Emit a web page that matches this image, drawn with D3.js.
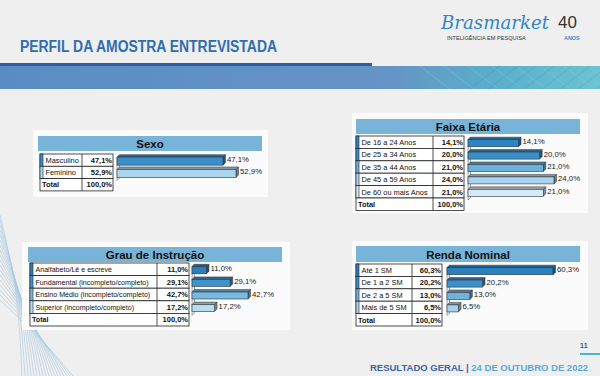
<!DOCTYPE html>
<html>
<head>
<meta charset="utf-8">
<script src="https://cdn.jsdelivr.net/npm/d3@7"></script>
<style>
  body { margin: 0; background: #efefef; }
  svg { display: block; font-family: "Liberation Sans", Arial, sans-serif; }
</style>
</head>
<body>
<div id="chart"></div>
<script>
// chart data
const sexoLabels = ["Masculino", "Feminino"];
const sexoValues = [47.1, 52.9];

const faixaLabels = ["De 16 a 24 Anos", "De 25 a 34 Anos", "De 35 a 44 Anos", "De 45 a 59 Anos", "De 60 ou mais Anos"];
const faixaValues = [14.1, 20.0, 21.0, 24.0, 21.0];

const grauLabels = ["Analfabeto/Lê e escreve", "Fundamental (incompleto/completo)", "Ensino Médio (incompleto/completo)", "Superior (incompleto/completo)"];
const grauValues = [11.0, 29.1, 42.7, 17.2];

const rendaLabels = ["Até 1 SM", "De 1 a 2 SM", "De 2 a 5 SM", "Mais de 5 SM"];
const rendaValues = [60.3, 20.2, 13.0, 6.5];

const totalLabel = "Total";
const totalValue = 100.0;

const W = 600, H = 376;
const fmt = v => d3.format(".1f")(v).replace(".", ",") + "%";

const svg = d3.select("#chart").append("svg")
    .attr("width", W)
    .attr("height", H);

const defs = svg.append("defs");
const bandGrad = defs.append("linearGradient").attr("id", "bandGrad");
bandGrad.append("stop").attr("offset", "0%").attr("stop-color", "#5a8cc3");
bandGrad.append("stop").attr("offset", "65%").attr("stop-color", "#6594c6");
bandGrad.append("stop").attr("offset", "82%").attr("stop-color", "#5aaecb");
bandGrad.append("stop").attr("offset", "100%").attr("stop-color", "#6cc3d2");

// background
svg.append("rect").attr("width", W).attr("height", H).attr("fill", "#efefef");

// bottom-left decorative curves
const curve = d3.line().curve(d3.curveBasis);
d3.range(18).forEach(i => {
    svg.append("path")
        .attr("d", curve([[0, 215 + i * 5], [18 + i * 1.5, 290 + i * 3], [22 + i * 3, 376]]))
        .attr("fill", "none")
        .attr("stroke", "#a9c8e0")
        .attr("stroke-width", 0.6);
});

// header
svg.append("text")
    .attr("x", 20).attr("y", 52)
    .attr("font-size", 16).attr("font-weight", "bold")
    .attr("fill", "#2f6db0")
    .attr("textLength", 257).attr("lengthAdjust", "spacingAndGlyphs")
    .text("PERFIL DA AMOSTRA ENTREVISTADA");

svg.append("rect").attr("x", 0).attr("y", 66).attr("width", W).attr("height", 23).attr("fill", "url(#bandGrad)");
svg.append("rect").attr("x", 0).attr("y", 63).attr("width", 372).attr("height", 3).attr("fill", "#2c5f9f");
// crosshatch on the band's right end
d3.range(8).forEach(i => {
    svg.append("line")
        .attr("x1", 420 + i * 24).attr("y1", 66)
        .attr("x2", 450 + i * 24).attr("y2", 89)
        .attr("stroke", "#8fd0dc").attr("stroke-width", 0.5).attr("opacity", 0.7);
    svg.append("line")
        .attr("x1", 470 + i * 18).attr("y1", 89)
        .attr("x2", 500 + i * 18).attr("y2", 66)
        .attr("stroke", "#4c7fae").attr("stroke-width", 0.4).attr("opacity", 0.6);
});

// logo
const brand = svg.append("text")
    .attr("x", 441).attr("y", 29)
    .attr("font-family", "DejaVu Serif").attr("font-style", "italic")
    .attr("font-size", 23).attr("fill", "#2f86c6")
    .text("Brasmarket");
// shrink the wordmark so it fits before the "40"
const bw = brand.node().getComputedTextLength();
if (bw > 108) brand.attr("font-size", 23 * 108 / bw);
svg.append("text")
    .attr("x", 558).attr("y", 28)
    .attr("font-size", 17).attr("fill", "#333")
    .text("40");
svg.append("text")
    .attr("x", 447).attr("y", 40)
    .attr("font-size", 5.6).attr("fill", "#333")
    .text("INTELIGÊNCIA EM PESQUISA");
svg.append("text")
    .attr("x", 564).attr("y", 40)
    .attr("font-size", 5.4).attr("font-weight", "bold").attr("fill", "#3c8cc8")
    .text("ANOS");

// one panel: header strip, table and 3D bars
function drawPanel(cfg) {
    const g = svg.append("g");

    g.append("rect")
        .attr("x", cfg.box[0]).attr("y", cfg.box[1])
        .attr("width", cfg.box[2]).attr("height", cfg.box[3])
        .attr("fill", "#fbfbfb");

    g.append("rect")
        .attr("x", cfg.head[0]).attr("y", cfg.head[1])
        .attr("width", cfg.head[2] - cfg.head[0]).attr("height", cfg.head[3] - cfg.head[1])
        .attr("fill", "#78b4d8");
    g.append("text")
        .attr("x", (cfg.head[0] + cfg.head[2]) / 2).attr("y", cfg.head[3] - 3.5)
        .attr("text-anchor", "middle")
        .attr("font-size", 11.5).attr("font-weight", "bold").attr("fill", "#111")
        .text(cfg.title);

    const rows = cfg.labels.concat([totalLabel]);
    const y = d3.scaleBand()
        .domain(rows)
        .range([cfg.top, cfg.top + cfg.rowH * rows.length]);

    const x = d3.scaleLinear()
        .domain([0, d3.max(cfg.values)])
        .range([cfg.x0, cfg.x0 + cfg.len]);

    const tL = cfg.table[0], tD = cfg.table[1], tR = cfg.table[2];

    // table cells
    const row = g.selectAll(".row").data(rows).enter().append("g");
    row.append("rect")
        .attr("x", tL).attr("y", d => y(d))
        .attr("width", tR - tL).attr("height", y.bandwidth())
        .attr("fill", "#fff").attr("stroke", "#222").attr("stroke-width", 0.8);
    row.append("line")
        .attr("x1", tD).attr("x2", tD)
        .attr("y1", d => y(d)).attr("y2", d => y(d) + y.bandwidth())
        .attr("stroke", "#222").attr("stroke-width", 0.8);
    row.filter((d, i) => i < cfg.labels.length).append("rect")
        .attr("x", tL).attr("y", d => y(d))
        .attr("width", 3).attr("height", y.bandwidth())
        .attr("fill", (d, i) => cfg.colors[i]).attr("stroke", "#222").attr("stroke-width", 0.6);
    row.append("text")
        .attr("x", (d, i) => i < cfg.labels.length ? tL + 5.5 : tL + 2)
        .attr("y", d => y(d) + y.bandwidth() / 2 + 2.7)
        .attr("font-size", cfg.fs)
        .attr("font-weight", (d, i) => i < cfg.labels.length ? "normal" : "bold")
        .attr("fill", "#111")
        .text(d => d);
    row.append("text")
        .attr("x", tR - 1)
        .attr("y", d => y(d) + y.bandwidth() / 2 + 2.7)
        .attr("text-anchor", "end")
        .attr("font-size", 7.5).attr("font-weight", "bold").attr("fill", "#111")
        .text((d, i) => fmt(i < cfg.labels.length ? cfg.values[i] : totalValue));

    // back wall of the 3D bar area
    const dp = 2.5;
    const yTop = y(rows[0]) + 1, yBot = y(rows[cfg.labels.length]) + 2;
    g.append("polygon")
        .attr("points", [[x(0), yTop + dp], [x(0) + dp, yTop], [x(0) + dp, yBot - dp], [x(0), yBot]].join(" "))
        .attr("fill", "#e4e4e4").attr("stroke", "#777").attr("stroke-width", 0.6);

    // bars
    const bh = cfg.barH;
    cfg.values.forEach((v, i) => {
        const by = y(cfg.labels[i]) + y.bandwidth() / 2 - bh / 2 + 1;
        const x1 = x(v);
        const c = d3.color(cfg.colors[i]);
        g.append("polygon")
            .attr("points", [[x(0), by], [x(0) + dp, by - dp], [x1 + dp, by - dp], [x1, by]].join(" "))
            .attr("fill", c.darker(0.9)).attr("stroke", "#333").attr("stroke-width", 0.5);
        g.append("polygon")
            .attr("points", [[x1, by], [x1 + dp, by - dp], [x1 + dp, by + bh - dp], [x1, by + bh]].join(" "))
            .attr("fill", c.darker(1.4)).attr("stroke", "#333").attr("stroke-width", 0.5);
        g.append("rect")
            .attr("x", x(0)).attr("y", by)
            .attr("width", x1 - x(0)).attr("height", bh)
            .attr("fill", c).attr("stroke", "#333").attr("stroke-width", 0.6);
        g.append("text")
            .attr("x", x1 + dp + 1.5).attr("y", by + bh / 2 + 1)
            .attr("font-size", 7.8).attr("fill", "#222")
            .text(fmt(v));
    });
}

drawPanel({
    title: "Sexo", labels: sexoLabels, values: sexoValues,
    colors: ["#3a8fcb", "#aad5ef"],
    box: [33, 130, 235, 67], head: [38, 136, 262, 151],
    table: [40, 82, 113], top: 154, rowH: 12.3,
    x0: 117, len: 119, barH: 8, fs: 7.4
});

drawPanel({
    title: "Faixa Etária", labels: faixaLabels, values: faixaValues,
    colors: ["#2c85c2", "#3990c9", "#6db2de", "#a9d3ee", "#d4eaf7"],
    box: [352, 113, 236, 100], head: [356, 119, 580, 134],
    table: [356, 433, 464], top: 136, rowH: 12.4,
    x0: 468, len: 86, barH: 7, fs: 7.4
});

drawPanel({
    title: "Grau de Instrução", labels: grauLabels, values: grauValues,
    colors: ["#2a80be", "#3d93cb", "#78b9e1", "#b8dcf1"],
    box: [22, 242, 268, 88], head: [28, 247, 282, 262],
    table: [30, 157, 189], top: 263, rowH: 12.6,
    x0: 192, len: 56, barH: 7, fs: 7.1
});

drawPanel({
    title: "Renda Nominal", labels: rendaLabels, values: rendaValues,
    colors: ["#2a7fbd", "#3b91c9", "#6eb2dd", "#a6d2ed"],
    box: [352, 241, 236, 89], head: [356, 246, 580, 262],
    table: [356, 412, 442], top: 264, rowH: 12.4,
    x0: 447, len: 106, barH: 7, fs: 7.4
});

// footer
svg.append("text")
    .attr("x", 588).attr("y", 348)
    .attr("text-anchor", "end")
    .attr("font-size", 8).attr("fill", "#222")
    .text("11");
svg.append("rect").attr("x", 580).attr("y", 353).attr("width", 20).attr("height", 2).attr("fill", "#4fb3d9");

const foot = svg.append("text")
    .attr("x", 588).attr("y", 371)
    .attr("text-anchor", "end")
    .attr("font-size", 9.5).attr("font-weight", "bold");
foot.append("tspan").attr("fill", "#3a67a6").text("RESULTADO GERAL | ");
foot.append("tspan").attr("fill", "#5aa9dc").text("24 DE OUTUBRO DE 2022");
</script>
</body>
</html>
